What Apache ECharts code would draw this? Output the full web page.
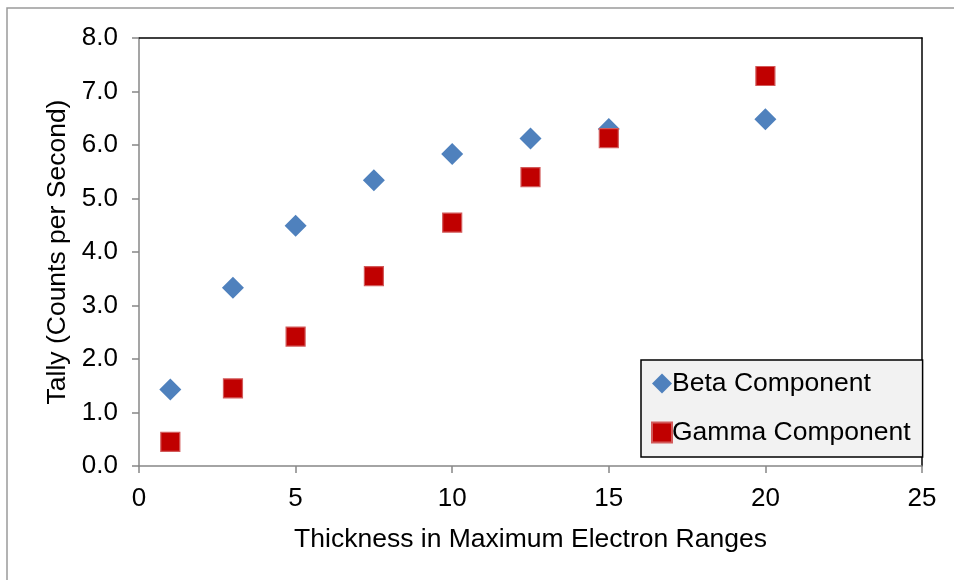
<!DOCTYPE html>
<html>
<head>
<meta charset="utf-8">
<script src="https://cdn.jsdelivr.net/npm/echarts@6/dist/echarts.min.js"></script>
<style>
  html, body { margin: 0; padding: 0; background: #ffffff; }
  #chart { width: 954px; height: 580px; }
</style>
</head>
<body>
<div id="chart"></div>
<script>
// Thickness in maximum electron ranges
const thickness = [1, 3, 5, 7.5, 10, 12.5, 15, 20];
// Tally values (counts per second)
const betaTally = [1.43, 3.33, 4.49, 5.34, 5.83, 6.12, 6.30, 6.48];
const gammaTally = [0.45, 1.45, 2.42, 3.55, 4.55, 5.40, 6.13, 7.29];
const seriesNames = ['Beta Component', 'Gamma Component'];

const FONT = '"Liberation Sans", Arial, sans-serif';
const AXIS_GRAY = '#878787';

const pairs = (xs, ys) => xs.map((x, i) => [x, ys[i]]);

const chart = echarts.init(document.getElementById('chart'), null, { renderer: 'canvas' });

chart.setOption({
  animation: false,
  backgroundColor: '#ffffff',
  textStyle: { fontFamily: FONT, color: '#000000' },
  graphic: [{
    type: 'rect',
    shape: { x: 7, y: 8, width: 980, height: 600 },
    style: { fill: 'none', stroke: '#9a9a9a', lineWidth: 1.5 },
    silent: true,
    z: -10
  }],
  grid: { left: 139, right: 32, top: 38, bottom: 114, containLabel: false },
  legend: {
    orient: 'vertical',
    left: 641,
    top: 360,
    padding: [10, 12, 11, 10],
    itemGap: 22,
    itemWidth: 20,
    itemHeight: 20,
    backgroundColor: '#f2f2f2',
    borderColor: '#000000',
    borderWidth: 1.5,
    borderRadius: 0,
    textStyle: { fontFamily: FONT, fontSize: 26.5, color: '#000000', padding: [0, 0, 0, -5] },
    data: [
      { name: seriesNames[0], icon: 'diamond' },
      { name: seriesNames[1], icon: 'rect' }
    ]
  },
  xAxis: [{
    type: 'value',
    min: 0, max: 25, interval: 5,
    name: 'Thickness in Maximum Electron Ranges',
    nameLocation: 'middle',
    nameGap: 60,
    nameTextStyle: { fontFamily: FONT, fontSize: 26.5, color: '#000000' },
    axisLine: { show: true, onZero: false, lineStyle: { color: AXIS_GRAY, width: 1.5 } },
    axisTick: { show: true, length: 7, lineStyle: { color: AXIS_GRAY, width: 1.5 } },
    axisLabel: { fontFamily: FONT, fontSize: 26, color: '#000000', margin: 20 },
    splitLine: { show: false }
  }, {
    type: 'value',
    position: 'top',
    min: 0, max: 25,
    axisLine: { show: true, onZero: false, lineStyle: { color: '#000000', width: 1.5 } },
    axisTick: { show: false },
    axisLabel: { show: false },
    splitLine: { show: false }
  }],
  yAxis: [{
    type: 'value',
    min: 0, max: 8, interval: 1,
    name: 'Tally (Counts per Second)',
    nameLocation: 'middle',
    nameRotate: 90,
    nameGap: 66,
    nameTextStyle: { fontFamily: FONT, fontSize: 26.5, color: '#000000' },
    axisLine: { show: true, onZero: false, lineStyle: { color: AXIS_GRAY, width: 1.5 } },
    axisTick: { show: true, length: 7, lineStyle: { color: AXIS_GRAY, width: 1.5 } },
    axisLabel: {
      fontFamily: FONT, fontSize: 26, color: '#000000', margin: 21,
      formatter: v => v.toFixed(1)
    },
    splitLine: { show: false }
  }, {
    type: 'value',
    position: 'right',
    min: 0, max: 8,
    axisLine: { show: true, onZero: false, lineStyle: { color: '#000000', width: 1.5 } },
    axisTick: { show: false },
    axisLabel: { show: false },
    splitLine: { show: false }
  }],
  series: [{
    name: seriesNames[0],
    type: 'scatter',
    xAxisIndex: 0, yAxisIndex: 0,
    symbol: 'diamond',
    symbolSize: 22,
    itemStyle: { color: '#4f81bd', opacity: 1 },
    data: pairs(thickness, betaTally),
    z: 3
  }, {
    name: seriesNames[1],
    type: 'scatter',
    xAxisIndex: 0, yAxisIndex: 0,
    symbol: 'rect',
    symbolSize: 19,
    itemStyle: { color: '#c00000', borderColor: '#d25a5a', borderWidth: 1.2, opacity: 1 },
    data: pairs(thickness, gammaTally),
    z: 4
  }]
});
</script>
</body>
</html>
